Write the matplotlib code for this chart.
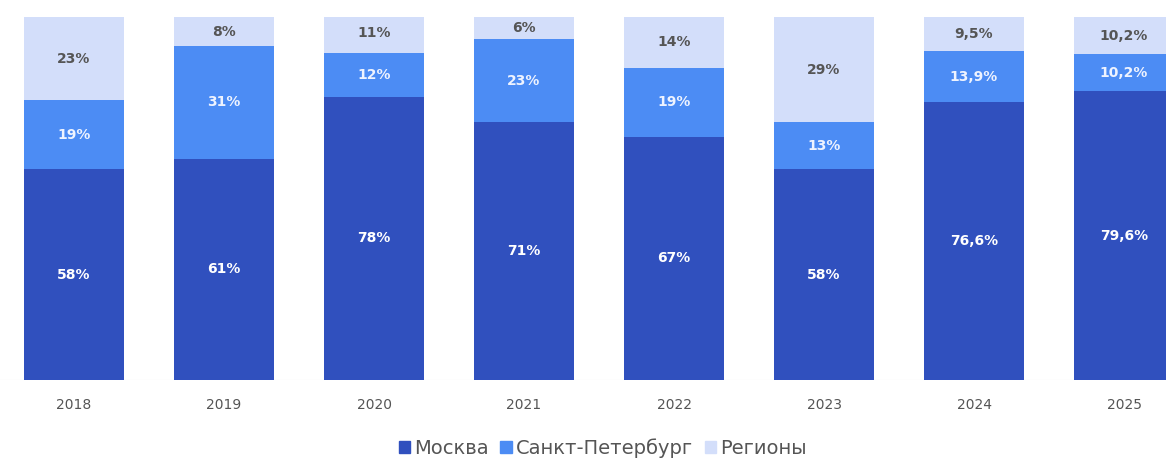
import numpy as np
import matplotlib.pyplot as plt
from matplotlib.patches import Patch

years = ["2018", "2019", "2020", "2021", "2022", "2023", "2024", "2025"]
moscow = [58, 61, 78, 71, 67, 58, 76.6, 79.6]
spb = [19, 31, 12, 23, 19, 13, 13.9, 10.2]
regions = [23, 8, 11, 6, 14, 29, 9.5, 10.2]
series_names = ["Москва", "Санкт-Петербург", "Регионы"]

colors = ["#3050BE", "#4C8CF4", "#D3DEFA"]
text_colors = ["white", "#EEF3FF", "#555555"]


def fmt(v):
    s = f"{v:g}".replace(".", ",")
    return s + "%"


fig = plt.figure(figsize=(11.66, 4.58), dpi=100)
ax = fig.add_axes([0, 0.1703, 1, 0.7926])

x = np.arange(len(years))
bottom = np.zeros(len(years))
for vals, col, tcol in zip([moscow, spb, regions], colors, text_colors):
    vals = np.array(vals, dtype=float)
    ax.bar(x, vals, width=0.667, bottom=bottom, color=col, zorder=2)
    for xi, b, v in zip(x, bottom, vals):
        ax.text(xi, b + v / 2, fmt(v), ha="center", va="center",
                fontsize=10, fontweight="bold", color=tcol, zorder=3)
    bottom += vals

ax.set_xlim(-74 / 150, (1166 - 74) / 150)
ax.set_ylim(0, 100)
ax.axhline(0, color="#DDDDDD", lw=0.8, zorder=1)
for s in ax.spines.values():
    s.set_visible(False)
ax.set_yticks([])
ax.set_xticks(x)
ax.set_xticklabels(years, fontsize=10, color="#555555")
ax.tick_params(axis="x", length=0, pad=13)

handles = [Patch(color=c) for c in colors]
fig.legend(handles, series_names, loc="center", bbox_to_anchor=(0.517, 0.022),
           ncol=3, frameon=False, fontsize=14, handlelength=0.6, handleheight=0.6,
           handletextpad=0.2, columnspacing=0.6, labelcolor="#555555")

fig.savefig("out.png", dpi=100)
